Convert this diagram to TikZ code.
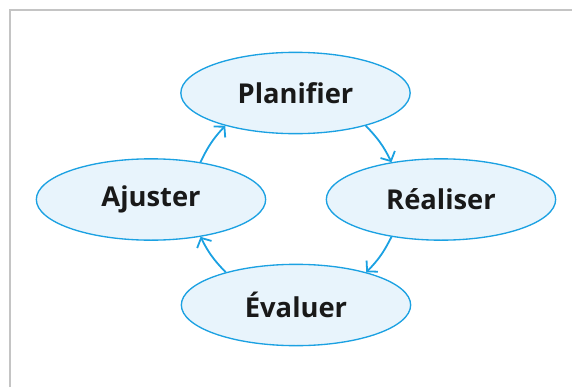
\documentclass[tikz,border=0pt]{standalone}
\usepackage{fontspec}
\setmainfont{Open Sans}
\usetikzlibrary{arrows.meta,shapes.geometric}
\definecolor{cyc}{HTML}{1BA1E2}
\definecolor{cycfill}{HTML}{E8F4FC}
\definecolor{framegray}{HTML}{C4C4C4}
\tikzset{
  phase/.style={ellipse, draw=cyc, fill=cycfill, line width=1pt,
    minimum width=172pt, minimum height=61pt, inner sep=0pt,
    font=\fontsize{20.5}{24}\selectfont\bfseries, text=black!90},
  flow/.style={draw=cyc, line width=1.35pt,
    -{Straight Barb[length=5.5pt,width=12pt,line width=1.35pt]}}
}
\begin{document}
\begin{tikzpicture}[x=0.75pt,y=0.75pt]
\useasboundingbox (0,0) rectangle (572,387);
\draw[framegray, line width=1.1pt] (10,0) -- (10,377) -- (572,377);
\node[phase] (P) at (295.5,294) {Planifier};
\node[phase] (R) at (441,187.5) {Réaliser};
\node[phase] (E) at (296,82) {Évaluer};
\node[phase] (A) at (151,187.5) {Ajuster};
\draw[flow] (P.-25) to[bend left=9] (R.143);
\draw[flow] (R.-143) to[bend left=9] (E.25);
\draw[flow] (E.155) to[bend left=9] (A.-37);
\draw[flow] (A.37) to[bend left=9] (P.-155);
\end{tikzpicture}
\end{document}
